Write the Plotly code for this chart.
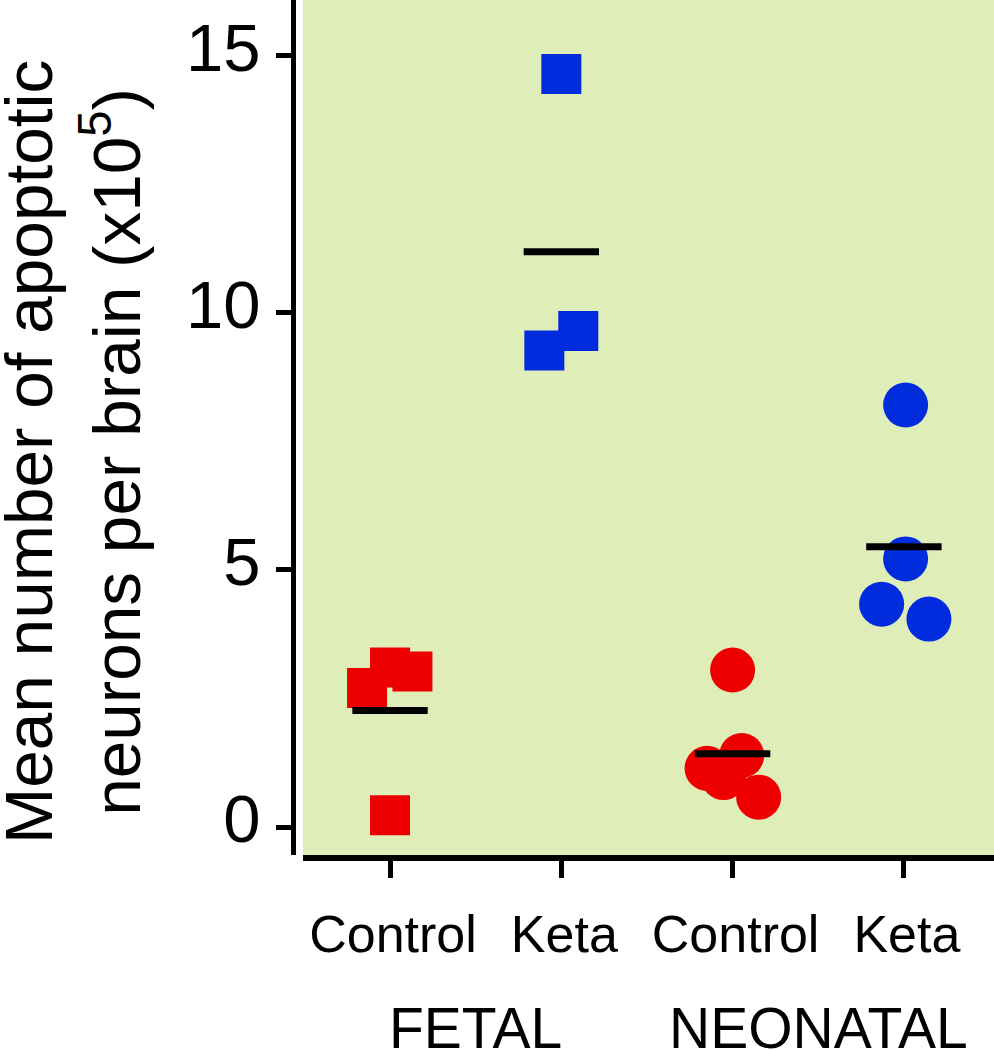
import plotly.graph_objects as go

# ---- data ----
categories = ["Control", "Keta", "Control", "Keta"]
groups = ["FETAL", "NEONATAL"]

fetal_control = [2.70, 3.10, 3.02, 0.23]
fetal_control_jitter = [-0.134, 0.0, 0.131, 0.0]
fetal_keta = [14.63, 9.26, 9.64]
fetal_keta_jitter = [0.0, -0.099, 0.099]
neo_control = [3.05, 1.14, 1.39, 0.96, 0.58]
neo_control_jitter = [0.0, -0.149, 0.053, -0.053, 0.152]
neo_keta = [8.20, 5.21, 4.33, 4.04]
neo_keta_jitter = [0.01, 0.01, -0.13, 0.146]

y_ticks = [0, 5, 10, 15]

RED = "#EE0000"
BLUE = "#002CDE"
BG = "#DFEDB9"
FONT = "Liberation Sans, Arial, sans-serif"

series = [
    (1, fetal_control, fetal_control_jitter, RED, "square", 40),
    (2, fetal_keta, fetal_keta_jitter, BLUE, "square", 40),
    (3, neo_control, neo_control_jitter, RED, "circle", 45),
    (4, neo_keta, neo_keta_jitter, BLUE, "circle", 45),
]

W, H = 994, 1050
L, R, T, B = 293, 0, 0, 195
plot_w = W - L - R
plot_h = H - T - B

fig = go.Figure()
for pos, vals, jit, col, sym, sz in series:
    fig.add_trace(go.Scatter(
        x=[pos + j for j in jit], y=vals, mode="markers",
        marker=dict(color=col, symbol=sym, size=sz, line=dict(width=0)),
        showlegend=False, hoverinfo="skip"))

half = 0.22
for pos, vals, jit, col, sym, sz in series:
    m = sum(vals) / len(vals)
    fig.add_trace(go.Scatter(
        x=[pos - half, pos + half], y=[m, m], mode="lines",
        line=dict(color="black", width=7),
        showlegend=False, hoverinfo="skip"))

dom_start = (303 - L) / plot_w

fig.update_layout(
    width=W, height=H,
    margin=dict(l=L, r=R, t=T, b=B, pad=0),
    paper_bgcolor="white",
    plot_bgcolor=BG,
    font=dict(family=FONT, color="black"),
    xaxis=dict(
        domain=[dom_start, 1],
        range=[0.492, 4.526],
        tickmode="array", tickvals=[1, 2, 3, 4], ticktext=categories,
        showgrid=False, zeroline=False,
        showline=True, linecolor="black", linewidth=6,
        ticks="outside", ticklen=17, tickwidth=5, tickcolor="black",
        ticklabelstandoff=12, ticklabelshift=3,
        tickfont=dict(size=52, family=FONT, color="black"),
    ),
    yaxis=dict(
        anchor="free", position=0,
        range=[-0.544, 16.07],
        tickmode="array", tickvals=y_ticks,
        showgrid=False, zeroline=False,
        showline=True, linecolor="black", linewidth=5,
        ticks="outside", ticklen=15, tickwidth=5, tickcolor="black",
        ticklabelstandoff=2, ticklabelshift=-8,
        tickfont=dict(size=67, family=FONT, color="black"),
    ),
)

def px_x(p):
    return (p - L) / plot_w

def px_y(p):
    return (T + plot_h - p) / plot_h

fig.add_annotation(
    text="Mean number of apoptotic<br>neurons per brain (x10<sup>5</sup>)",
    xref="paper", yref="paper", x=px_x(72), y=px_y(452),
    xanchor="center", yanchor="middle", textangle=-90, showarrow=False,
    font=dict(size=67.5, family=FONT, color="black"))

for i, g in enumerate(groups):
    fig.add_annotation(
        text=g, xref="x", yref="paper", x=1.5 + 2 * i, y=px_y(1028),
        xanchor="center", yanchor="middle", showarrow=False,
        font=dict(size=57, family=FONT, color="black"))

fig.write_html("out.html", config={"displayModeBar": False},
               post_script="document.body.style.margin='0';")
